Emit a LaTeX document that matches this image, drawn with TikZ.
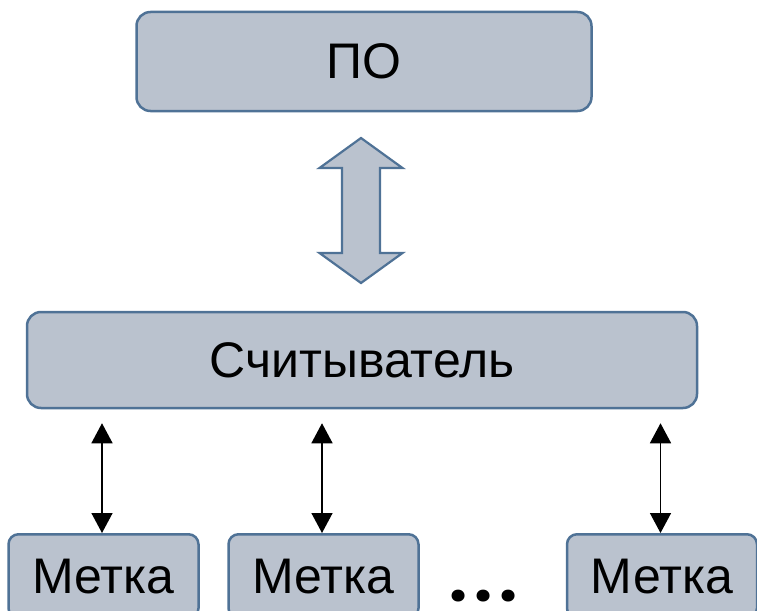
\documentclass[tikz,border=0pt]{standalone}
\usepackage{fontspec}
\setmainfont{Liberation Sans}
\newfontfamily\dotfont{Poppins}
\usetikzlibrary{arrows.meta,calc}
\definecolor{boxfill}{RGB}{186,194,206}
\definecolor{boxline}{RGB}{79,114,150}
\begin{document}
\begin{tikzpicture}[x=1pt,y=-1pt,
  box/.style={draw=boxline, fill=boxfill, line width=2.5pt, rounded corners=14pt, inner sep=0pt, font=\fontsize{50}{60}\selectfont},
  tag/.style={box, rounded corners=10pt, minimum width=190pt, minimum height=84pt, anchor=north},
  link/.style={line width=1.5pt, {Triangle[length=20pt,width=21pt]}-{Triangle[length=20pt,width=21pt]}},
  bigarrow/.style={draw=boxline, fill=boxfill, line width=2.2pt, line join=miter}]
\useasboundingbox (0,0) rectangle (757,610);
\clip (0,0) rectangle (757,610);
\node[box, minimum width=455pt, minimum height=99pt] (po) at (364,61.5) {ПО};
\node[box, minimum width=670pt, minimum height=96pt] (rd) at (362,360) {Считыватель};
\node[tag] (t1) at (103.5,533) {Метка};
\node[tag] (t2) at (323.5,533) {Метка};
\node[tag] (t3) at (662,533) {Метка};
\node[font=\fontsize{64}{76}\dotfont\bfseries, inner sep=0pt, anchor=base] (dots) at (484,601) {.\kern7pt.\kern7pt.};
\coordinate (mid) at ($($(po.south)!0.5!(rd.north)$)+(-2,-1)$);
\draw[bigarrow] ($(mid)+(0,-72.5)$) -- ++(41.5,30) -- ++(-22.5,0) -- ++(0,85) -- ++(22.5,0) -- ++(-41.5,30) -- ++(-41.5,-30) -- ++(22.5,0) -- ++(0,-85) -- ++(-22.5,0) -- cycle;
\foreach \t in {t1,t2,t3}
  \draw[link, shorten >=14pt] ([xshift=-1.5pt]\t.north) -- ([xshift=-1.5pt]\t.north |- rd.south);
\end{tikzpicture}
\end{document}
